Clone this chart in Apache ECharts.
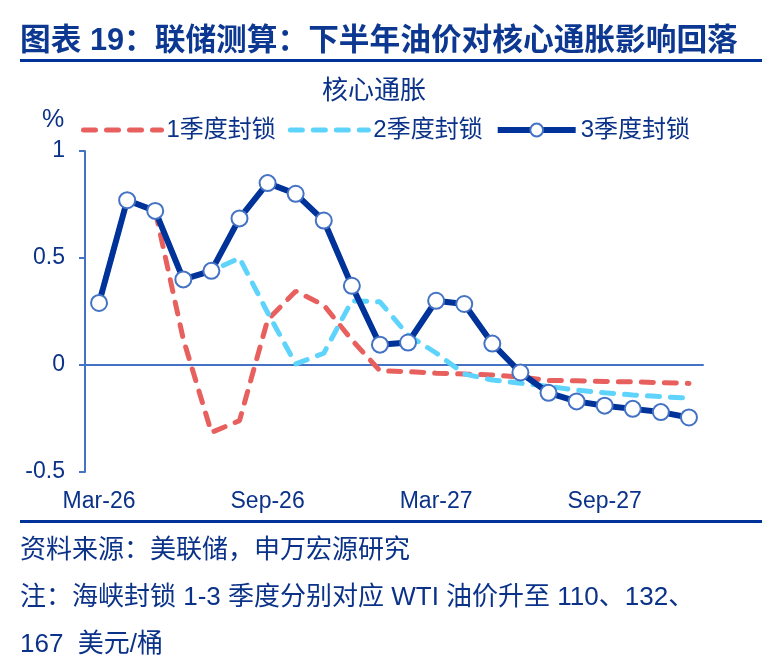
<!DOCTYPE html>
<html>
<head>
<meta charset="utf-8">
<script src="https://cdn.jsdelivr.net/npm/echarts@6/dist/echarts.min.js"></script>
<style>
  html, body { margin: 0; padding: 0; background: #fff; }
  #chart { width: 762px; height: 664px; }
</style>
</head>
<body>
<div id="chart"></div>
<script>
// months Mar-26 .. Dec-27
var months = ['Mar-26','Apr-26','May-26','Jun-26','Jul-26','Aug-26','Sep-26','Oct-26','Nov-26','Dec-26',
              'Jan-27','Feb-27','Mar-27','Apr-27','May-27','Jun-27','Jul-27','Aug-27','Sep-27','Oct-27','Nov-27','Dec-27'];

var q1Data = [0.29, 0.77, 0.72, 0.12, -0.315, -0.26, 0.21, 0.345, 0.28, 0.117, -0.027, -0.031,
              -0.038, -0.042, -0.047, -0.056, -0.072, -0.074, -0.077, -0.079, -0.082, -0.086];
var q2Data = [0.29, 0.77, 0.72, 0.40, 0.44, 0.50, 0.245, 0.005, 0.055, 0.30, 0.295, 0.14,
              0.056, -0.042, -0.07, -0.085, -0.10, -0.117, -0.13, -0.14, -0.148, -0.155];
var q3Data = [0.29, 0.77, 0.72, 0.40, 0.44, 0.685, 0.85, 0.80, 0.675, 0.37, 0.095, 0.105,
              0.30, 0.285, 0.10, -0.035, -0.13, -0.17, -0.19, -0.205, -0.22, -0.245];

var seriesNames = ['1季度封锁', '2季度封锁', '3季度封锁'];

var FONT = "'Liberation Sans', 'Noto Sans CJK SC', sans-serif";
var textColor = '#0b3289';
var axisColor = '#4472c4';
var red = '#e8605e', cyan = '#5ed4fc', navy = '#003399';

var chart = echarts.init(document.getElementById('chart'));

var option = {
    animation: false,
    textStyle: { fontFamily: FONT },
    graphic: [
        { type: 'text', left: 20, top: 26,
          style: { text: '图表 19：联储测算：下半年油价对核心通胀影响回落', font: 'bold 30.7px ' + FONT, fill: '#0d3891' } },
        { type: 'rect', shape: { x: 20, y: 59, width: 742, height: 3 }, style: { fill: navy } },
        { type: 'text', left: 322, top: 79,
          style: { text: '核心通胀', font: '26px ' + FONT, fill: textColor } },
        { type: 'text', left: 42, top: 108,
          style: { text: '%', font: '25px ' + FONT, fill: textColor } },
        { type: 'rect', shape: { x: 20, y: 520, width: 742, height: 3 }, style: { fill: navy } },
        { type: 'text', left: 20, top: 538,
          style: { text: '资料来源：美联储，申万宏源研究', font: '26px ' + FONT, fill: textColor } },
        { type: 'text', left: 20, top: 585,
          style: { text: '注：海峡封锁 1-3 季度分别对应 WTI 油价升至 110、132、', font: '26px ' + FONT, fill: textColor } },
        { type: 'text', left: 20, top: 632,
          style: { text: '167  美元/桶', font: '26px ' + FONT, fill: textColor } }
    ],
    legend: {
        data: [
            { name: seriesNames[0], itemStyle: { opacity: 0 },
              lineStyle: { color: red, width: 5, type: [12, 11], cap: 'round' } },
            { name: seriesNames[1], itemStyle: { opacity: 0 },
              lineStyle: { color: cyan, width: 5, type: [12, 11], cap: 'round' } },
            { name: seriesNames[2],
              lineStyle: { color: navy, width: 6 } }
        ],
        left: 76,
        top: 113,
        itemWidth: 78,
        itemHeight: 16,
        itemGap: 12,
        textStyle: { fontSize: 24, color: textColor, fontFamily: FONT }
    },
    grid: { left: 85, top: 151, width: 618, height: 321 },
    xAxis: [{
        type: 'category',
        data: months,
        boundaryGap: true,
        axisLine: { onZero: true, lineStyle: { color: axisColor, width: 2 } },
        axisTick: { interval: 5, length: 5, lineStyle: { color: axisColor, width: 2 } },
        axisLabel: { show: false },
        splitLine: { show: false }
    }, {
        type: 'category',
        data: months,
        position: 'bottom',
        boundaryGap: true,
        axisLine: { show: false, onZero: false },
        axisTick: { show: false },
        axisLabel: { interval: 5, margin: 18, fontSize: 23, color: textColor, fontFamily: FONT },
        splitLine: { show: false }
    }],
    yAxis: {
        type: 'value',
        min: -0.5,
        max: 1,
        interval: 0.5,
        axisLine: { show: true, lineStyle: { color: axisColor, width: 2 } },
        axisTick: { show: true, length: 6, lineStyle: { color: axisColor, width: 2 } },
        axisLabel: { margin: 20, fontSize: 23, color: textColor, fontFamily: FONT },
        splitLine: { show: false }
    },
    series: [{
        name: seriesNames[0],
        type: 'line',
        data: q1Data,
        symbol: 'none',
        color: red,
        lineStyle: { color: red, width: 5, type: [12, 11], cap: 'round' }
    }, {
        name: seriesNames[1],
        type: 'line',
        data: q2Data,
        symbol: 'none',
        color: cyan,
        lineStyle: { color: cyan, width: 5, type: [12, 11], cap: 'round' }
    }, {
        name: seriesNames[2],
        type: 'line',
        data: q3Data,
        symbol: 'circle',
        symbolSize: 16,
        color: navy,
        itemStyle: { color: '#ffffff', borderColor: axisColor, borderWidth: 2 },
        lineStyle: { color: navy, width: 6 }
    }]
};

chart.setOption(option);
</script>
</body>
</html>
